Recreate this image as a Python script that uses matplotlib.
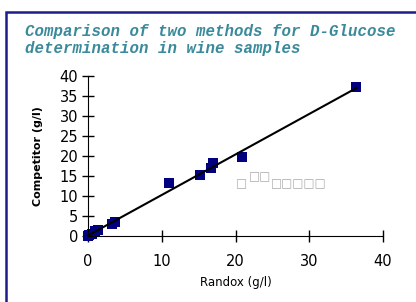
import numpy as np
import matplotlib
matplotlib.use("Agg")
import matplotlib.pyplot as plt
from matplotlib.patches import Rectangle

# datos
randox = [0.0, 0.2, 0.5, 1.0, 1.3, 3.2, 3.6, 11.0, 15.2, 16.7, 17.0, 20.9, 36.4]
competidor = [0.0, 0.3, 0.4, 1.3, 1.5, 3.0, 3.4, 13.2, 15.2, 16.9, 18.2, 19.7, 37.2]
xticks = [0, 10, 20, 30, 40]
yticks = [0, 5, 10, 15, 20, 25, 30, 35, 40]

titulo = "Comparison of two methods for D-Glucose\ndetermination in wine samples"

fig = plt.figure(figsize=(4.16, 3.02), dpi=100)
fig.patch.set_facecolor("white")

# marco azul (izquierda y arriba)
fig.patches.append(Rectangle((6 / 416, -0.1), 1.2, (302 - 12) / 302 + 0.1,
                             transform=fig.transFigure, fill=False,
                             edgecolor="#1c1c8c", linewidth=1.8))

fig.text(25 / 416, 1 - 24 / 302, titulo, ha="left", va="top",
         family="Liberation Mono", weight="bold", style="italic",
         fontsize=11.3, color="#3a8a9b", linespacing=1.15)

ax = fig.add_axes([88 / 416, (302 - 236) / 302, 295 / 416, 160 / 302])
ax.set_xlim(0, 40)
ax.set_ylim(0, 40)
ax.set_xticks(xticks)
ax.set_yticks(yticks)
for s in ["top", "right"]:
    ax.spines[s].set_visible(False)
ax.tick_params(direction="inout", length=8, width=1, labelsize=10.5)
ax.tick_params(axis="x", pad=9)
ax.tick_params(axis="y", pad=3)

# linea de tendencia
m, b = np.polyfit(randox, competidor, 1)
xs = np.array([min(randox), max(randox)])
ax.plot(xs, m * xs + b, color="black", lw=1.5, zorder=3, clip_on=False)

ax.plot(randox, competidor, "s", color="#000080", ms=7.5, zorder=2,
        clip_on=False, markeredgewidth=0)

ax.set_xlabel("Randox (g/l)", fontsize=8.5, labelpad=5)
ax.set_ylabel("Competitor (g/l)", fontsize=8, weight="bold", labelpad=12)

# etiqueta de la ecuacion (sin fuente)
fig.text(236 / 416, 1 - 187 / 302, "\u25a1", fontsize=8.5, color="#aaaaaa")
fig.text(249 / 416, 1 - 180 / 302, "\u25a1\u25a1", fontsize=8.5, color="#aaaaaa")
fig.text(271 / 416, 1 - 187 / 302, "\u25a1\u25a1\u25a1\u25a1\u25a1", fontsize=8.5, color="#aaaaaa")

fig.savefig("out.png", dpi=100)
